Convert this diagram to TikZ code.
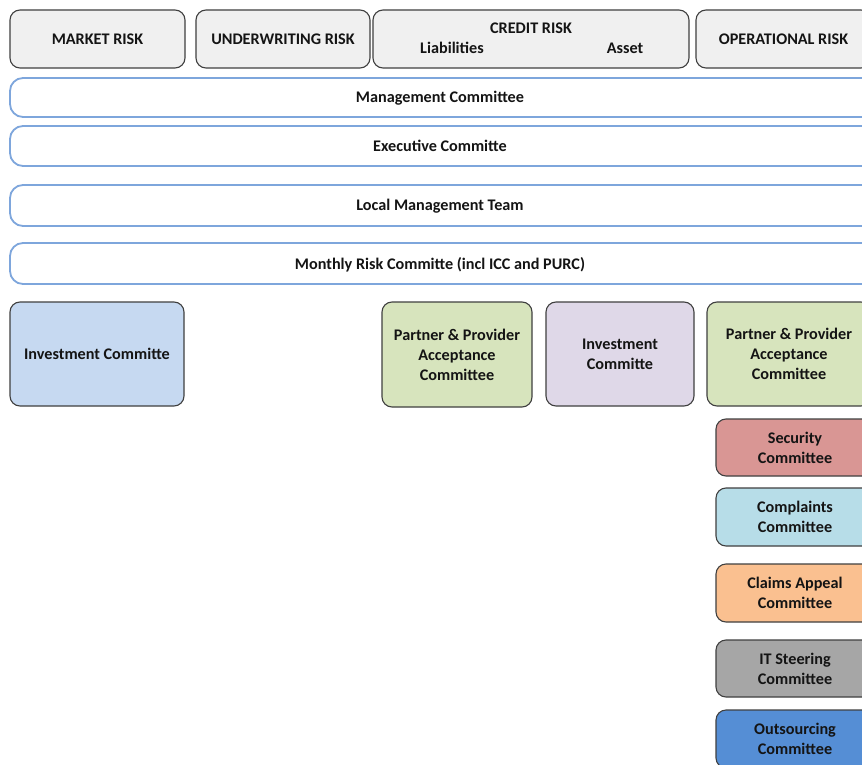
\documentclass[tikz,border=0pt]{standalone}
\usepackage{fontspec}
\setmainfont{Carlito}
\definecolor{txt}{HTML}{141414}
\definecolor{grayfill}{HTML}{F0F0F0}
\definecolor{grayline}{HTML}{404040}
\definecolor{blueline}{HTML}{7EA6DC}
\definecolor{fblue}{HTML}{C6D9F1}
\definecolor{fgreen}{HTML}{D7E4BD}
\definecolor{fpurple}{HTML}{DFD8E8}
\definecolor{fred}{HTML}{D99694}
\definecolor{fcyan}{HTML}{B7DDE8}
\definecolor{forange}{HTML}{FAC090}
\definecolor{fgray}{HTML}{A6A6A6}
\definecolor{fdblue}{HTML}{558ED5}
\begin{document}
\begin{tikzpicture}[x=1pt,y=-1pt,
  every node/.style={font=\bfseries\fontsize{16.2}{20}\selectfont, text=txt, inner sep=0pt, outer sep=0pt},
  lbl/.style={text height=14pt, text depth=2.3pt},
  box/.style={draw=grayline, line width=1.1pt, rounded corners=10pt, anchor=north west, align=center},
  riskbox/.style={box, fill=grayfill},
  levelbox/.style={draw=blueline, line width=1.8pt, rounded corners=13pt, anchor=north west, fill=white, minimum width=870pt},
  cbox/.style={box, minimum width=158pt, minimum height=57pt},
]
\useasboundingbox (0,0) rectangle (862,765);
\clip (0,0) rectangle (862,765);
\fill[white] (0,0) rectangle (862,765);
% top row
\node[riskbox, lbl, minimum width=175pt, minimum height=58pt] (market) at (10,10) {MARKET RISK};
\node[riskbox, lbl, minimum width=174pt, minimum height=58pt] (under) at (196,10) {UNDERWRITING RISK};
\node[riskbox, minimum width=316pt, minimum height=58pt] (credit) at (373,10) {};
\node[lbl] (creditt) at (531,28) {CREDIT RISK};
\node[lbl] (liab) at (452,48) {Liabilities};
\node[lbl] (asset) at (625,48) {Asset};
\node[riskbox, lbl, minimum width=175pt, minimum height=58pt] (oper) at (696,10) {OPERATIONAL RISK};
% level bars
\node[levelbox, minimum height=39pt] (mgmt) at (10,78) {};
\node[lbl] (mgmtt) at (440,97) {Management Committee};
\node[levelbox, minimum height=40pt] (exec) at (10,126) {};
\node[lbl] (exect) at (440,146) {Executive Committe};
\node[levelbox, minimum height=41pt] (local) at (10,185) {};
\node[lbl] (localt) at (440,205) {Local Management Team};
\node[levelbox, minimum height=41pt] (monthly) at (10,243) {};
\node[lbl] (monthlyt) at (440,264) {Monthly Risk Committe (incl ICC and PURC)};
% committee row
\node[box, lbl, fill=fblue, minimum width=174pt, minimum height=104pt] (inv1) at (10,302) {Investment Committe};
\node[box, fill=fgreen, minimum width=150pt, minimum height=105pt] (pp1) at (382,302) {Partner \& Provider\\Acceptance\\Committee};
\node[box, fill=fpurple, minimum width=148pt, minimum height=104pt] (inv2) at (546,302) {Investment\\Committe};
\node[box, fill=fgreen, minimum width=164pt, minimum height=104pt] (pp2) at (707,302) {Partner \& Provider\\Acceptance\\Committee};
% right column
\node[cbox, fill=fred] (sec) at (716,419) {Security\\Committee};
\node[cbox, fill=fcyan, minimum height=58pt] (comp) at (716,488) {Complaints\\Committee};
\node[cbox, fill=forange, minimum height=58pt] (claims) at (716,564) {Claims Appeal\\Committee};
\node[cbox, fill=fgray] (it) at (716,640) {IT Steering\\Committee};
\node[cbox, fill=fdblue, minimum height=58pt] (out) at (716,710) {Outsourcing\\Committee};
\end{tikzpicture}
\end{document}
